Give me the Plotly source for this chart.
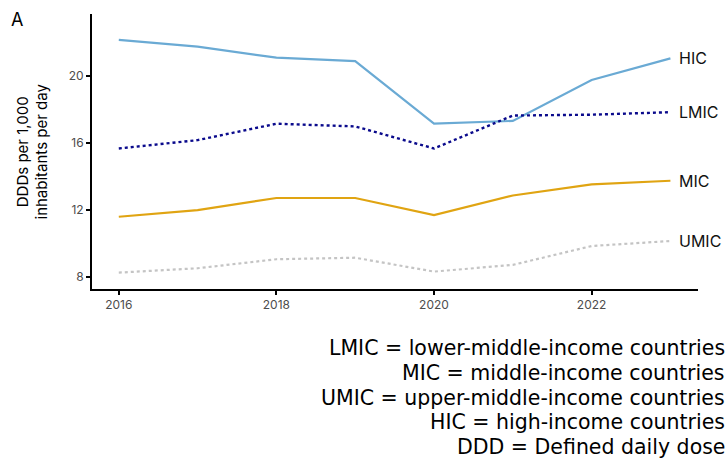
import plotly.graph_objects as go

# Antibiotic consumption by income group (DDDs per 1,000 inhabitants per day)
years = [2016, 2017, 2018, 2019, 2020, 2021, 2022, 2023]
hic = [22.17, 21.77, 21.11, 20.90, 17.17, 17.33, 19.78, 21.07]
lmic = [15.68, 16.18, 17.16, 17.00, 15.68, 17.65, 17.70, 17.85]
mic = [11.60, 12.00, 12.72, 12.72, 11.70, 12.87, 13.53, 13.75]
umic = [8.26, 8.52, 9.06, 9.15, 8.32, 8.72, 9.85, 10.15]

x_ticks = [2016, 2018, 2020, 2022]
y_ticks = [8, 12, 16, 20]

footnotes = [
    "LMIC = lower-middle-income countries",
    "MIC = middle-income countries",
    "UMIC = upper-middle-income countries",
    "HIC = high-income countries",
    "DDD = Defined daily dose",
]

W, H = 728, 461
ML, MR, MT, MB = 92, 30, 14, 172
PW, PH = W - ML - MR, H - MT - MB

def px_x(x):
    return (x - ML) / PW

def px_y(y):
    return (H - MB - y) / PH

series = [
    ("HIC", hic, "#6aaad4", "solid", 2.2),
    ("LMIC", lmic, "#0a0a8c", "dot", 2.4),
    ("MIC", mic, "#e0a412", "solid", 2.2),
    ("UMIC", umic, "#c4c4c4", "dot", 2.2),
]

FONT = "Inter, Open Sans, sans-serif"
WIDE = "DejaVu Sans, Verdana, sans-serif"

fig = go.Figure()
annotations = []
for name, vals, color, dash, width in series:
    fig.add_trace(go.Scatter(
        x=years, y=vals, mode="lines", name=name,
        line=dict(color=color, dash=dash, width=width),
        showlegend=False, hoverinfo="skip",
    ))
    annotations.append(dict(
        x=years[-1], y=vals[-1], xref="x", yref="y",
        text=name, showarrow=False, xanchor="left", yanchor="middle",
        xshift=7, font=dict(size=16, color="#111111", family=FONT),
    ))

annotations.append(dict(
    x=px_x(9), y=px_y(19), xref="paper", yref="paper", text="A",
    showarrow=False, xanchor="left", yanchor="middle",
    font=dict(size=18, color="#000000", family=FONT),
))

for i, line in enumerate(footnotes):
    annotations.append(dict(
        x=px_x(727), y=px_y(348 + 24.8 * i), xref="paper", yref="paper",
        text=line, showarrow=False, xanchor="right", yanchor="middle",
        font=dict(size=20.5, color="#000000", family=WIDE),
    ))

annotations.append(dict(
    x=px_x(32), y=0.5, xref="paper", yref="paper",
    text="DDDs per 1,000<br>inhabitants per day", showarrow=False,
    textangle=-90, xanchor="center", yanchor="middle", align="center",
    font=dict(size=15, color="#000000", family=FONT),
))

axis_common = dict(
    showline=True, linecolor="#000000", linewidth=2,
    ticks="outside", ticklen=4, tickwidth=1.5, tickcolor="#000000",
    showgrid=False, zeroline=False,
    tickfont=dict(size=12, color="#4d4d4d", family=FONT),
)

fig.update_layout(
    width=W, height=H,
    margin=dict(l=ML, r=MR, t=MT, b=MB),
    plot_bgcolor="white", paper_bgcolor="white",
    xaxis=dict(range=[2015.66, 2023.35], tickvals=x_ticks, **axis_common),
    yaxis=dict(range=[7.28, 23.72], tickvals=y_ticks, **axis_common),
    annotations=annotations,
)

fig.write_html("out.html")
